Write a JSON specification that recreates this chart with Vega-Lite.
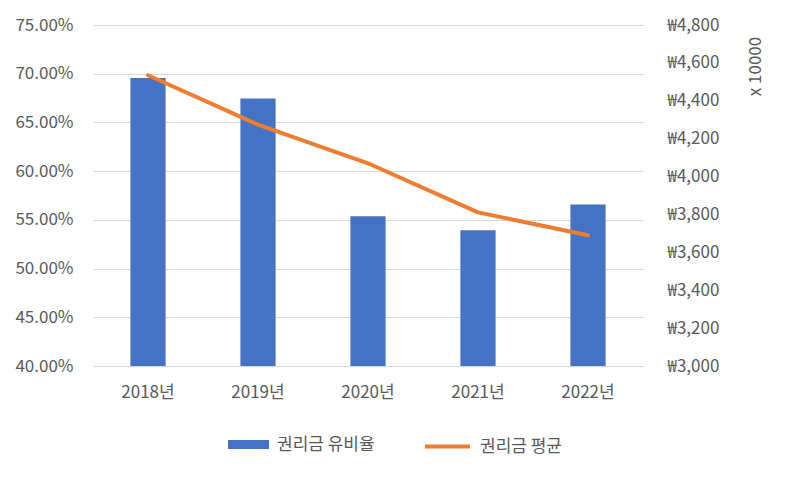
{
  "$schema": "https://vega.github.io/schema/vega-lite/v6.json",
  "autosize": "none",
  "width": 550,
  "height": 341,
  "padding": {"left": 93, "top": 25, "right": 153, "bottom": 111},
  "background": "white",
  "config": {
    "view": {"stroke": null},
    "font": "Noto Sans CJK KR",
    "axis": {"labelFont": "Noto Sans CJK KR", "labelColor": "#595959", "labelFontSize": 17, "titleFont": "Noto Sans CJK KR", "titleColor": "#595959", "titleFontWeight": "normal"},
    "legend": {"labelFont": "Noto Sans CJK KR", "labelColor": "#595959", "labelFontSize": 17}
  },
  "data": {"values": [
    {"year": "2018년", "rate": 0.6957, "avg": 4535},
    {"year": "2019년", "rate": 0.6745, "avg": 4274},
    {"year": "2020년", "rate": 0.5537, "avg": 4070},
    {"year": "2021년", "rate": 0.5393, "avg": 3811},
    {"year": "2022년", "rate": 0.5657, "avg": 3690}
  ]},
  "encoding": {
    "x": {"field": "year", "type": "nominal", "sort": null,
      "scale": {"paddingInner": 0.68, "paddingOuter": 0.34},
      "axis": {"title": null, "labelAngle": 0, "domain": true, "domainColor": "#d9d9d9", "ticks": false, "labelPadding": 18}}
  },
  "layer": [
    {
      "mark": {"type": "bar", "clip": true},
      "encoding": {
        "y": {"field": "rate", "type": "quantitative",
          "scale": {"domain": [0.4, 0.75], "zero": false, "nice": false},
          "axis": {"title": null, "format": ".2%", "values": [0.4, 0.45, 0.5, 0.55, 0.6, 0.65, 0.7, 0.75], "grid": true, "gridColor": "#d9d9d9", "domain": false, "ticks": false, "labelPadding": 20}},
        "fill": {"datum": "권리금 유비율", "type": "nominal",
          "scale": {"range": ["#4472C4"]},
          "legend": {"title": null, "orient": "none", "legendX": 135, "legendY": 399, "padding": 0,
            "symbolType": "M-1,-0.22H1V0.22H-1Z", "symbolSize": 1681, "symbolStrokeWidth": 0, "symbolFillColor": "#4472C4", "symbolOpacity": 1, "labelOffset": 8}}
      }
    },
    {
      "mark": {"type": "line", "strokeWidth": 4, "strokeCap": "round", "strokeJoin": "round"},
      "encoding": {
        "y": {"field": "avg", "type": "quantitative",
          "scale": {"domain": [3000, 4800], "zero": false, "nice": false},
          "axis": {"orient": "right", "title": "x 10000", "titleFontSize": 17, "titleAngle": -90, "titleAnchor": "end", "titleAlign": "center", "titleBaseline": "middle", "titleX": 112, "titleY": 41,
            "values": [3000, 3200, 3400, 3600, 3800, 4000, 4200, 4400, 4600, 4800],
            "labelExpr": "'₩' + format(datum.value, ',')", "grid": false, "domain": false, "ticks": false, "labelPadding": 24}},
        "stroke": {"datum": "권리금 평균", "type": "nominal",
          "scale": {"range": ["#ED7D31"]},
          "legend": {"title": null, "orient": "none", "legendX": 330, "legendY": 397, "padding": 0,
            "symbolType": "stroke", "symbolSize": 2025, "symbolStrokeWidth": 4, "labelOffset": 8}}
      }
    }
  ],
  "resolve": {"scale": {"y": "independent", "fill": "independent", "stroke": "independent"}}
}
